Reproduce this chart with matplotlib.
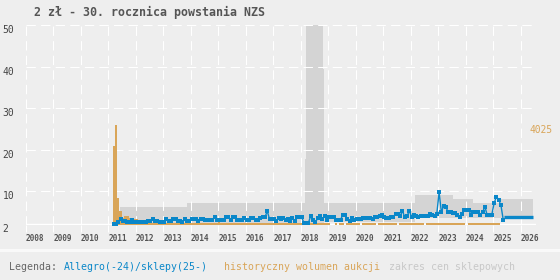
import matplotlib
matplotlib.use("Agg")
import matplotlib.pyplot as plt
from matplotlib.patches import Rectangle
from matplotlib.transforms import blended_transform_factory
import numpy as np

# ------------------------ #
# DATA
# ------------------------ #

# Allegro monthly price, first month = March 2011
allegro_price = [
    2.05, 2.05, 2.7, 3.25, 2.85, 2.85, 2.5, 2.5, 3.1, 2.5,                    # 2011
    2.5, 2.5, 2.5, 2.5, 2.5, 2.85, 2.85, 3.25, 2.85, 2.85, 2.5, 2.5,          # 2012
    2.5, 3.25, 2.85, 2.85, 3.25, 3.25, 2.85, 2.85, 2.5, 3.25, 2.85, 2.85,     # 2013
    3.25, 3.25, 3.25, 2.85, 3.25, 3.25, 3.1, 3.1, 3.1, 3.1, 3.7, 3.1,         # 2014
    3.1, 3.1, 3.1, 3.7, 3.7, 3.2, 3.85, 3.85, 3.1, 3.1, 3.1, 3.6,             # 2015
    3.2, 3.2, 3.6, 3.6, 3.1, 3.1, 3.5, 3.7, 3.7, 5.25, 3.3, 3.3,              # 2016
    3.3, 2.9, 3.5, 3.3, 3.5, 3.2, 3.4, 2.9, 3.5, 2.9, 3.85, 3.7,              # 2017
    3.7, 2.45, 2.45, 2.45, 4.1, 3.2, 2.5, 3.5, 4.1, 3.3, 4.1, 3.2,            # 2018
    3.8, 3.8, 3.8, 3.2, 3.2, 3.2, 4.3, 4.3, 3.3, 2.8, 3.5, 3.2,               # 2019
    3.3, 3.4, 3.4, 3.55, 3.55, 3.55, 3.55, 3.3, 3.8, 3.8, 4.0, 4.3,           # 2020
    3.8, 3.6, 3.5, 3.8, 3.8, 4.6, 4.6, 4.0, 5.3, 3.8, 4.0, 5.3,               # 2021
    3.8, 4.3, 4.1, 3.9, 4.0, 4.0, 4.0, 4.0, 4.6, 4.3, 4.0, 4.6,               # 2022
    9.75, 5.0, 6.5, 6.1, 5.0, 5.0, 4.7, 4.7, 4.3, 3.9, 4.6, 5.4,              # 2023
    5.4, 5.4, 4.3, 5.0, 5.1, 5.1, 4.3, 5.0, 6.3, 4.2, 4.3, 4.4,               # 2024
    7.1, 8.7, 8.0, 6.6, 3.1,                                                  # 2025
]

# historical auction volume, same months
auction_volume = [
    3200, 4025, 1100, 585, 310, 380, 360, 290, 200, 270,
    250, 130, 100, 90, 80, 90, 80, 80, 100, 80, 90, 80,
    80, 90, 80, 80, 100, 80, 80, 90, 80, 80, 90, 80,
    80, 80, 90, 80, 80, 80, 90, 80, 80, 80, 90, 80,
    160, 90, 80, 80, 80, 90, 80, 80, 80, 90, 80, 80,
    80, 90, 80, 80, 80, 80, 90, 80, 80, 80, 80, 90,
    80, 80, 80, 90, 80, 80, 80, 80, 90, 80, 80, 80,
    80, 90, 80, 80, 80, 80, 80, 90, 80, 80, 80, 80,
    80, 0, 0, 80, 0, 80, 80, 0, 80, 80, 80, 80,
    80, 80, 0, 80, 80, 80, 80, 80, 80, 0, 80, 80,
    80, 80, 80, 80, 80, 80, 0, 80, 80, 80, 80, 80,
    80, 80, 80, 80, 80, 80, 0, 80, 80, 80, 80, 80,
    80, 80, 80, 80, 80, 80, 80, 80, 80, 80, 80, 80,
    0, 80, 80, 80, 80, 80, 80, 80, 80, 80, 80, 80,
    80, 80, 80,
]
max_volume = 4025

# shop prices from 2025 on
shop_years = [2025.40, 2026.46]
shop_price = [3.9, 3.9]

# range of shop prices (step)
band_years = [2011.43, 2013.85, 2018.16, 2018.18, 2018.20, 2018.81, 2018.83,
              2018.85, 2022.17, 2023.55, 2024.28, 2025.30, 2026.46]
band_low = [2.4, 2.4, 2.4, 2.4, 2.4, 2.4, 2.4, 2.7, 3.5, 3.5, 3.5, 3.5, 3.5]
band_high = [6.3, 7.2, 17.8, 39.5, 60.0, 39.5, 17.8, 7.2, 9.1, 8.2, 7.3, 8.2, 8.2]

year_ticks = list(range(2008, 2027))
price_ticks = [2, 10, 20, 30, 40, 50]

title = "2 zł - 30. rocznica powstania NZS"

# ------------------------ #
# PLOTTING
# ------------------------ #

BG = "#eeeeee"
BLUE = "#0a87c9"
ORANGE = "#d9a558"
BAND = "#d4d4d4"
W, H = 560, 280

plt.rcParams["font.family"] = ["DejaVu Sans Mono"]

months = 2011.2 + np.arange(len(allegro_price)) / 12

fig = plt.figure(figsize=(W / 100, H / 100), dpi=100, facecolor=BG)
ax = fig.add_axes([25.7 / W, 54.7 / H, 510.1 / W, 200.8 / H])
ax.set_facecolor(BG)
for s in ax.spines.values():
    s.set_visible(False)

ax.fill_between(band_years, band_low, band_high, step="post",
                color=BAND, lw=0, zorder=1)

# grid above the band
ax.set_axisbelow(False)
ax.grid(True, color="white", lw=0.75, linestyle=(0, (9, 5)))
ax.axhline(2, color="white", lw=1.0, zorder=2.6)

ax.set_xticks(year_ticks, [str(y) for y in year_ticks], ha="left",
              fontweight="bold")
ax.set_yticks(price_ticks, [str(p) for p in price_ticks], ha="left", va="top")
ax.tick_params(axis="x", direction="out", length=5, width=0.75,
               color="white", pad=1.5, labelsize=5.6, labelcolor="#555555")
ax.tick_params(axis="y", length=0, pad=16.7, labelsize=7,
               labelcolor="#444444")

# volume on its own scale, drawn above band and grid
ax_vol = ax.twinx()
for s in ax_vol.spines.values():
    s.set_visible(False)
ax_vol.bar(months[:len(auction_volume)], auction_volume, width=1 / 12,
           color=ORANGE, lw=0)

# prices drawn in price coordinates, on top of the bars
ax_vol.plot(months, allegro_price, transform=ax.transData, color=BLUE,
            lw=1.0, marker="s", ms=2.2, mew=0)
ax_vol.plot(shop_years, shop_price, transform=ax.transData, color=BLUE,
            lw=2.4, solid_capstyle="butt")

ax_vol.set_yticks([])
ax_vol.set_ylim(0, 8058)
ax_vol.text(530 / W, max_volume, str(max_volume), color=ORANGE, fontsize=6.9,
            ha="left", va="top",
            transform=blended_transform_factory(fig.transFigure,
                                                ax_vol.transData))

ax.set_xlim(2008, 2026.55)
ax.set_ylim(1.807, 50.19)

# title and legend row
fig.text(34 / W, 1 - 12.7 / H, title, fontsize=8.4, fontweight="bold",
         color="#555555", va="center")

fig.add_artist(Rectangle((0, 28 / H), 1, 3 / H, transform=fig.transFigure,
                         color="#f9f9f9", lw=0))

legend_y = 1 - 266.5 / H
fig.text(9.3 / W, legend_y, "Legenda:", fontsize=7.1, color="#666666",
         va="center")
fig.text(64.3 / W, legend_y, "Allegro(-24)/sklepy(25-)", fontsize=7.1,
         color=BLUE, va="center")
fig.text(224 / W, legend_y, "historyczny wolumen aukcji", fontsize=7.1,
         color=ORANGE, va="center")
fig.text(389.3 / W, legend_y, "zakres cen sklepowych", fontsize=7.1,
         color="#c8c8c8", va="center")

fig.savefig("out.png", dpi=100, facecolor=BG)
